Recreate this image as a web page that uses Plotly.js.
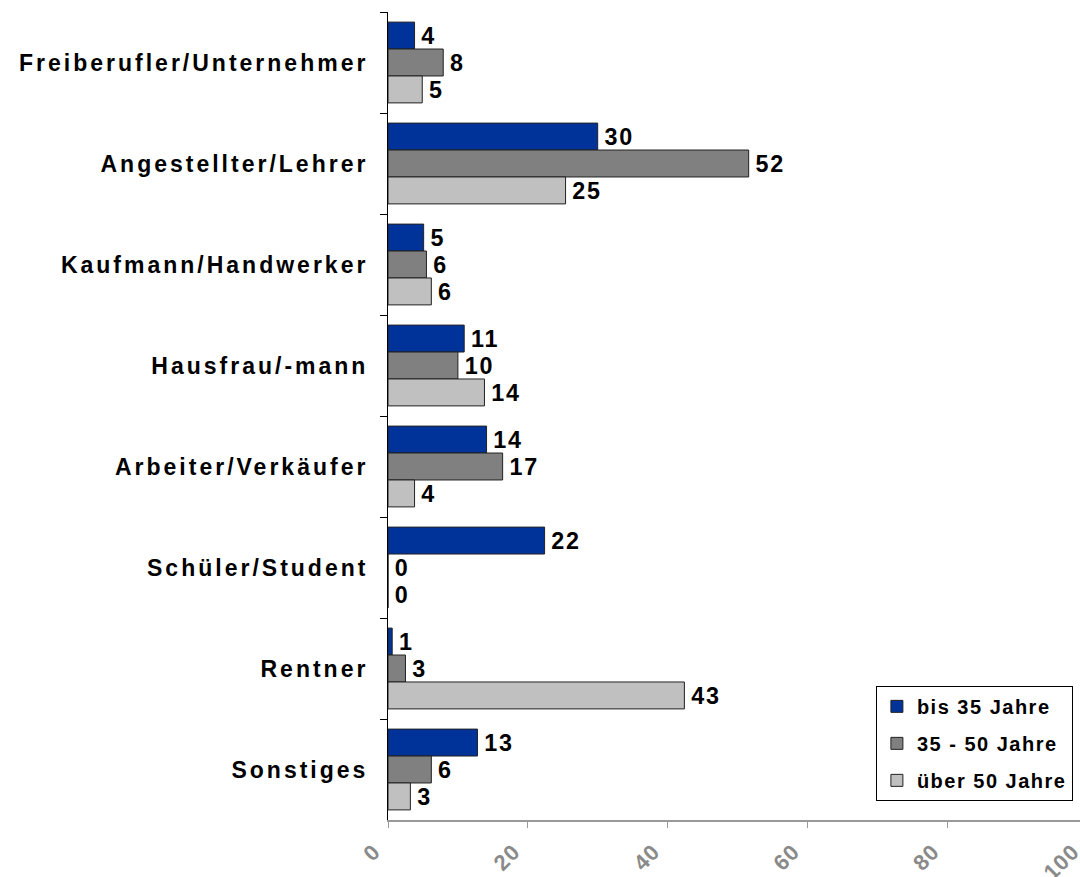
<!DOCTYPE html>
<html>
<head>
<meta charset="utf-8">
<script src="https://cdn.plot.ly/plotly-3.0.1.min.js"></script>
<style>
html,body{margin:0;padding:0;overflow:hidden;background:#fff;}
#chart{width:1095px;height:877px;}
.ytick text{letter-spacing:3px;}
text.bartext{letter-spacing:2px;}
text.legendtext{letter-spacing:1.5px;}
.xtick text{letter-spacing:1px;}
</style>
</head>
<body>
<div id="chart"></div>
<script>
var categories = ["Freiberufler/Unternehmer","Angestellter/Lehrer","Kaufmann/Handwerker","Hausfrau/-mann","Arbeiter/Verkäufer","Schüler/Student","Rentner","Sonstiges"];
var seriesNames = ["bis 35 Jahre","35 - 50 Jahre","über 50 Jahre"];
var valuesUnder35 = [3.8, 30.0, 5.1, 10.9, 14.1, 22.4, 0.6, 12.8];
var values35to50 = [7.9, 51.6, 5.5, 10.0, 16.4, 0, 2.5, 6.2];
var valuesOver50 = [4.9, 25.4, 6.2, 13.8, 3.8, 0, 42.4, 3.2];
var labelsUnder35 = ["4","30","5","11","14","22","1","13"];
var labels35to50 = ["8","52","6","10","17","0","3","6"];
var labelsOver50 = ["5","25","6","14","4","0","43","3"];
var xTickValues = [0,20,40,60,80,100];

var colors = ["#003399","#808080","#C0C0C0"];
var vals = [valuesUnder35, values35to50, valuesOver50];
var labs = [labelsUnder35, labels35to50, labelsOver50];
var font = "Liberation Sans, Arial, sans-serif";

var traces = vals.map(function(v,i){
  return {
    type:"bar", orientation:"h",
    y:categories, x:v, name:seriesNames[i],
    text:labs[i], texttemplate:"\u200A%{text}", textposition:"outside", cliponaxis:false,
    textfont:{family:font, size:26, color:"#000", weight:"bold"},
    marker:{color:colors[i], line:{color:"#222", width:1}},
    legendgroup:"g"+i,
    hoverinfo:"x+y"
  };
});

var layout = {
  width:1095, height:877,
  margin:{l:388, r:8, t:12, b:57},
  paper_bgcolor:"#fff", plot_bgcolor:"#fff",
  barmode:"group", bargap:0.2, bargroupgap:0,
  showlegend:true,
  legend:{x:0.698, y:0.166, xanchor:"left", yanchor:"top",
    bgcolor:"#fff", bordercolor:"#000", borderwidth:1,
    font:{family:font, size:20, color:"#000", weight:"bold"},
    traceorder:"grouped", tracegroupgap:8},
  xaxis:{range:[0,100], tickvals:xTickValues, ticktext:xTickValues.map(String),
    tickangle:-45, showgrid:false, zeroline:false, ticklabeloverflow:"allow",
    ticklabelshift:-14, ticklabelstandoff:2,
    showline:true, linecolor:"#999", linewidth:2,
    ticks:"outside", ticklen:6, tickcolor:"#999", tickwidth:1,
    tickfont:{family:font, size:22, color:"#8a8a8a", weight:"bold"}},
  yaxis:{autorange:"reversed", showgrid:false, zeroline:false,
    showline:true, linecolor:"#000", linewidth:1,
    ticks:"outside", tickson:"boundaries", ticklen:7, tickcolor:"#000",
    ticklabelstandoff:14,
    tickfont:{family:font, size:23, color:"#000", weight:"bold"}},
  font:{family:font}
};

Plotly.newPlot("chart", traces, layout, {displayModeBar:false});
</script>
</body>
</html>
